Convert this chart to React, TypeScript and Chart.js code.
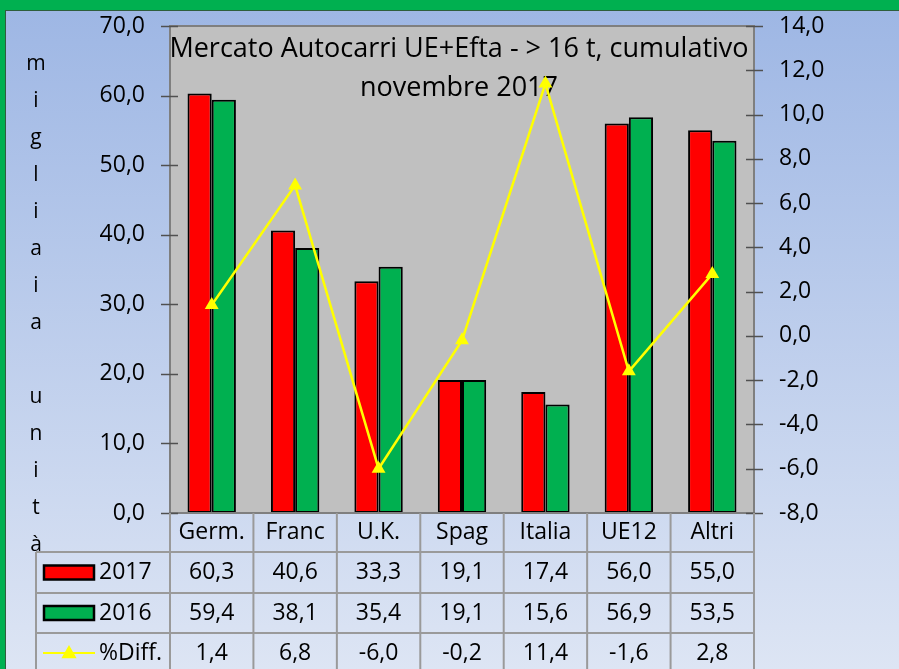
import React, { useEffect, useRef } from 'react';
import { Chart, registerables } from 'chart.js';
Chart.register(...registerables);

const categories = ['Germ.', 'Franc', 'U.K.', 'Spag', 'Italia', 'UE12', 'Altri'];
const values2017 = [60.3, 40.6, 33.3, 19.1, 17.4, 56.0, 55.0];
const values2016 = [59.4, 38.1, 35.4, 19.1, 15.6, 56.9, 53.5];
const diffPct = [1.4, 6.8, -6.0, -0.2, 11.4, -1.6, 2.8];
const seriesNames = ['2017', '2016', '%Diff.'];
const titleLines = ['Mercato Autocarri UE+Efta - > 16 t, cumulativo', 'novembre 2017'];
const yLabelLetters = ['m', 'i', 'g', 'l', 'i', 'a', 'i', 'a', '', 'u', 'n', 'i', 't', 'à'];
const leftAxis = { min: 0, max: 70, step: 10 };
const rightAxis = { min: -8, max: 14, step: 2 };

const RED = '#FF0000';
const GREEN = '#00B050';
const YELLOW = '#FFFF00';
const FONT = '"Open Sans", Lato, sans-serif';
const fmt = (v: number) => v.toFixed(1).replace('.', ',');

function drawTriangle(ctx: CanvasRenderingContext2D, x: number, y: number, r: number) {
  ctx.beginPath();
  ctx.moveTo(x, y - r);
  ctx.lineTo(x + r * 0.95, y + r * 0.65);
  ctx.lineTo(x - r * 0.95, y + r * 0.65);
  ctx.closePath();
  ctx.fill();
}

const decorPlugin = {
  id: 'decor',
  beforeDraw(chart: any) {
    const { ctx, width, height } = chart;
    ctx.save();
    const g = ctx.createLinearGradient(0, 0, 0, height);
    g.addColorStop(0, '#9DB6E4');
    g.addColorStop(1, '#DDE5F4');
    ctx.fillStyle = g;
    ctx.fillRect(0, 0, width, height);
    const a = chart.chartArea;
    ctx.fillStyle = '#C0C0C0';
    ctx.fillRect(a.left, a.top, a.right - a.left, a.bottom - a.top);
    ctx.restore();
  },
  beforeDatasetsDraw(chart: any) {
    const { ctx } = chart;
    const a = chart.chartArea;
    ctx.save();
    ctx.fillStyle = '#000';
    ctx.font = `27px ${FONT}`;
    ctx.textAlign = 'center';
    ctx.textBaseline = 'middle';
    const cx = (a.left + a.right) / 2 - 3;
    titleLines.forEach((t, i) => ctx.fillText(t, cx, a.top + 23 + i * 39));
    ctx.restore();
  },
  afterDraw(chart: any) {
    const { ctx, width } = chart;
    const a = chart.chartArea;
    const xs = chart.scales.x;
    const yl = chart.scales.y;
    const yr = chart.scales.y1;
    ctx.save();
    // plot border
    ctx.strokeStyle = '#7F7F7F';
    ctx.lineWidth = 2;
    ctx.strokeRect(a.left, a.top, a.right - a.left, a.bottom - a.top);
    // tick marks
    ctx.strokeStyle = '#505050';
    ctx.lineWidth = 1.5;
    yl.ticks.forEach((t: any) => {
      const y = Math.round(yl.getPixelForValue(t.value)) + 0.5;
      ctx.beginPath();
      ctx.moveTo(a.left - 9, y);
      ctx.lineTo(a.left + 8, y);
      ctx.stroke();
    });
    yr.ticks.forEach((t: any) => {
      const y = Math.round(yr.getPixelForValue(t.value)) + 0.5;
      ctx.beginPath();
      ctx.moveTo(a.right - 8, y);
      ctx.lineTo(a.right + 9, y);
      ctx.stroke();
    });
    // y label letters
    ctx.fillStyle = '#000';
    ctx.font = `21px ${FONT}`;
    ctx.textAlign = 'center';
    ctx.textBaseline = 'middle';
    yLabelLetters.forEach((l, i) => ctx.fillText(l, 36, 64 + i * 37));

    // data table
    const n = categories.length;
    const colW = (a.right - a.left) / n;
    const rowTops = [a.bottom, a.bottom + 39, a.bottom + 80, a.bottom + 120];
    const rowH = [39, 41, 40, 40];
    const tableLeft = 36;
    const bottom = chart.height;
    ctx.strokeStyle = '#9A9A9A';
    ctx.lineWidth = 2;
    for (let i = 0; i <= n; i++) {
      const x = a.left + i * colW;
      ctx.beginPath();
      ctx.moveTo(x, a.bottom);
      ctx.lineTo(x, bottom);
      ctx.stroke();
    }
    for (let r = 1; r < rowTops.length; r++) {
      ctx.beginPath();
      ctx.moveTo(tableLeft, rowTops[r]);
      ctx.lineTo(a.right, rowTops[r]);
      ctx.stroke();
    }
    ctx.beginPath();
    ctx.moveTo(tableLeft, rowTops[1]);
    ctx.lineTo(tableLeft, bottom);
    ctx.stroke();

    ctx.fillStyle = '#000';
    ctx.font = `23px ${FONT}`;
    ctx.textAlign = 'center';
    ctx.textBaseline = 'middle';
    const rows = [values2017, values2016, diffPct];
    categories.forEach((c, i) => {
      const x = xs.getPixelForValue(i);
      ctx.fillText(c, x, rowTops[0] + rowH[0] / 2);
      rows.forEach((vals, r) => {
        ctx.fillText(fmt(vals[i]), x, rowTops[r + 1] + rowH[r + 1] / 2);
      });
    });
    // legend keys
    const keyColors = [RED, GREEN];
    keyColors.forEach((col, r) => {
      const cy = rowTops[r + 1] + rowH[r + 1] / 2;
      ctx.fillStyle = col;
      ctx.fillRect(44, cy - 7, 50, 14);
      ctx.strokeStyle = '#000';
      ctx.lineWidth = 2.5;
      ctx.strokeRect(44, cy - 7, 50, 14);
    });
    const ly = rowTops[3] + rowH[3] / 2;
    ctx.strokeStyle = YELLOW;
    ctx.lineWidth = 2;
    ctx.beginPath();
    ctx.moveTo(43, ly);
    ctx.lineTo(95, ly);
    ctx.stroke();
    ctx.fillStyle = YELLOW;
    drawTriangle(ctx, 69, ly, 8);
    ctx.fillStyle = '#000';
    ctx.textAlign = 'left';
    seriesNames.forEach((s, r) => {
      ctx.fillText(s, 99, rowTops[r + 1] + rowH[r + 1] / 2);
    });

    // green frame
    ctx.fillStyle = '#00B050';
    ctx.fillRect(0, 0, width, 10);
    ctx.fillRect(0, 0, 5, chart.height);
    ctx.fillStyle = '#2E5E3C';
    ctx.fillRect(5, 10, width - 5, 1);
    ctx.fillRect(5, 10, 1, chart.height - 10);
    ctx.restore();
  },
};

export default function App() {
  const ref = useRef<HTMLCanvasElement>(null);
  useEffect(() => {
    if (!ref.current) return;
    const chart = new Chart(ref.current, {
      type: 'bar',
      data: {
        labels: categories,
        datasets: [
          {
            type: 'line',
            label: seriesNames[2],
            data: diffPct,
            yAxisID: 'y1',
            borderColor: YELLOW,
            backgroundColor: YELLOW,
            borderWidth: 2.5,
            pointStyle: 'triangle',
            pointRadius: 8,
            pointBorderWidth: 0,
            pointBackgroundColor: YELLOW,
            tension: 0,
            order: 0,
          } as any,
          {
            label: seriesNames[0],
            data: values2017,
            yAxisID: 'y',
            backgroundColor: RED,
            borderColor: '#000',
            borderWidth: 2,
            borderSkipped: false,
            categoryPercentage: 0.58,
            barPercentage: 1,
            order: 1,
          },
          {
            label: seriesNames[1],
            data: values2016,
            yAxisID: 'y',
            backgroundColor: GREEN,
            borderColor: '#000',
            borderWidth: 2,
            borderSkipped: false,
            categoryPercentage: 0.58,
            barPercentage: 1,
            order: 1,
          },
        ],
      },
      options: {
        animation: false,
        responsive: false,
        layout: { padding: { top: 26, left: 0, right: 0, bottom: 0 } },
        plugins: { legend: { display: false }, tooltip: { enabled: false }, title: { display: false } },
        scales: {
          x: {
            grid: { display: false },
            border: { display: false },
            ticks: { display: false },
            afterFit: (s: any) => { s.height = 156; s.paddingLeft = 0; s.paddingRight = 0; },
          },
          y: {
            position: 'left',
            min: leftAxis.min,
            max: leftAxis.max,
            grid: { display: false, drawTicks: false },
            border: { display: false },
            ticks: {
              stepSize: leftAxis.step,
              padding: 25,
              color: '#000',
              font: { family: FONT, size: 23 },
              callback: (v: any) => fmt(Number(v)),
            },
            afterFit: (s: any) => { s.width = 170; s.paddingTop = 0; s.paddingBottom = 0; },
          },
          y1: {
            position: 'right',
            min: rightAxis.min,
            max: rightAxis.max,
            grid: { display: false, drawTicks: false },
            border: { display: false },
            ticks: {
              stepSize: rightAxis.step,
              padding: 25,
              color: '#000',
              font: { family: FONT, size: 23 },
              callback: (v: any) => fmt(Number(v)),
            },
            afterFit: (s: any) => { s.width = 145; s.paddingTop = 0; s.paddingBottom = 0; },
          },
        },
      },
      plugins: [decorPlugin],
    });
    return () => chart.destroy();
  }, []);
  return (
    <div style={{ position: 'absolute', left: 0, top: 0, width: 899, height: 669 }}>
      <canvas ref={ref} width={899} height={669} style={{ display: 'block', width: 899, height: 669 }} />
    </div>
  );
}
